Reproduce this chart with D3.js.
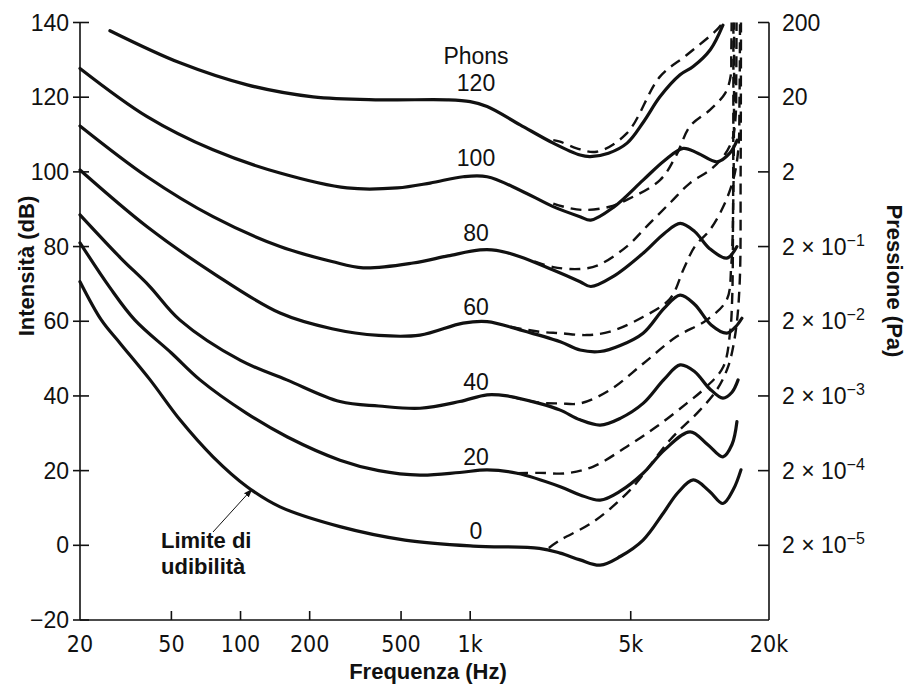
<!DOCTYPE html>
<html>
<head>
<meta charset="utf-8">
<script src="https://cdn.jsdelivr.net/npm/d3@7"></script>
<style>
  body { margin: 0; background: #fff; }
  svg text { font-family: "Liberation Sans", Arial, sans-serif; fill: #111; }
  .tick-x { font-family: "Liberation Sans Narrow", "DejaVu Sans Condensed", sans-serif; font-size: 23px; }
  .tick-y { font-size: 23px; }
  .title { font-weight: bold; font-size: 22px; }
  .note { font-weight: bold; font-size: 22px; }
  .phon { font-size: 23px; }
</style>
</head>
<body>
<div id="chart"></div>
<script>
// equal loudness contours, [frequency Hz, level dB]
var phons = [0, 20, 40, 60, 80, 100, 120];

var solid0 = [[20,70.6],[24.8,60.3],[30,54],[40.4,44.3],[54.5,33.6],[75.9,23.7],[106.7,15.7],[148.6,10.3],[271,5],[520,1.4],[1030,-0.2],[2000,-0.8],[2467,-2.1],[3010,-3.9],[3680,-5.3],[4500,-3],[5660,1.4],[7000,9],[8000,14],[9360,17.5],[11000,14.5],[12600,11.2],[14000,15],[15100,20.2]];
var solid20 = [[20,81],[27,69],[34.7,60.3],[50,51.5],[66.6,44.3],[106,35.4],[160,29],[271,22.8],[400,20],[605,18.8],[900,19.5],[1185,20.2],[1600,19.3],[2467,15.7],[3010,13.5],[3680,12.1],[4500,14.5],[5660,19.3],[7000,25.5],[9070,30.4],[10800,27],[12600,23.7],[13800,27],[14500,33.1]];
var solid40 = [[20,88.5],[30,77],[40,69.5],[54.5,60.3],[100,49.5],[159,44.3],[271,38.5],[400,37.3],[605,36.7],[900,38.5],[1185,40.3],[1450,40],[2000,38],[2467,36.2],[3010,33.6],[3680,32.2],[4500,34],[5660,38],[7000,44.5],[8210,48.3],[9500,46.5],[11000,42],[12600,39.4],[13800,41],[14670,44.3]];
var solid60 = [[20,100.5],[39.2,85.3],[75.9,72.9],[148.6,62.2],[250,58],[400,56.2],[605,56.3],[931,59.5],[1185,59.9],[1649,57.7],[2467,54.5],[3010,52.3],[3680,51.9],[4500,53.5],[5660,56.8],[7000,63.5],[8200,67],[9500,64.5],[11200,59],[13100,56.8],[14300,58.5],[15240,60.8]];
var solid80 = [[20,112.3],[39.2,98.7],[75.9,88],[148.6,80],[250,76],[342,74.3],[564,75.6],[800,77.5],[1104,79.1],[1300,79],[1649,77.3],[2297,73.7],[3010,70.6],[3350,69.3],[4200,72],[5660,78.2],[7000,83.5],[8210,86.2],[9500,84],[11000,79.5],[13100,76.9],[14500,80]];
var solid100 = [[20,127.7],[39.2,114.8],[75.9,105.9],[148.6,99.7],[291,95.7],[481,95.7],[669,97],[931,98.7],[1185,98.7],[1649,95.1],[2297,90.7],[3010,88],[3350,87.1],[4200,90.5],[5660,97.8],[7000,103],[8460,106.3],[9800,105],[11890,102.7],[13500,105],[14530,108.5]];
var solid120 = [[27,137.8],[54.5,129.2],[107,123.3],[207,120.1],[405,119.3],[793,119.3],[1000,118.8],[1185,117.5],[1650,112.6],[2300,107.7],[3010,104.5],[3330,104.1],[4000,105],[4820,107.7],[5700,113.5],[6700,120.1],[8200,126],[9350,128.2],[11100,132.7],[12600,139.3]];

var dashed0 = [[2200,-0.7],[2467,1.4],[3436,6.3],[4965,14.8],[7410,28.2],[10010,36.2],[11840,41.6],[13300,48],[14300,57],[14900,70],[15050,100],[15100,140]];
var dashed20 = [[1600,19.3],[2000,19.4],[2631,19.3],[3436,21.1],[4803,26.4],[6486,31.8],[8764,38],[10700,42.5],[12650,47.8],[13530,56.8],[13820,65.7],[13950,90],[14000,140]];
var dashed40 = [[1500,39.8],[2000,38.2],[2467,38],[3007,38],[4062,41.6],[5675,48.7],[7925,55.9],[10700,60.3],[13080,65.7],[13700,75],[14000,95],[14100,140]];
var dashed60 = [[1500,58.5],[2000,57.2],[2467,56.8],[3215,56.3],[4062,57.2],[5675,61.2],[7410,66],[8500,74],[9500,80],[11070,84.5],[12650,90.7],[13960,97.8],[14700,105.9],[14880,119.3],[14950,140]];
var dashed80 = [[1900,76],[2300,74.5],[3000,74],[3600,75],[4800,80],[6000,86],[7500,92],[9060,97],[11070,100.5],[12650,104.1],[13840,108.6],[14310,114.8],[14400,125],[14450,140]];
var dashed100 = [[2300,91.5],[2700,90.3],[3150,89.8],[4000,90.6],[4803,92.5],[6705,97.8],[7900,104.5],[9060,112.2],[11070,116.6],[12900,121.1],[13600,125.5],[13700,132],[13750,140]];
var dashed120 = [[2300,108.5],[2460,108.1],[2908,106.3],[3554,105.4],[4803,110.3],[6705,125.5],[8765,131.3],[11840,138],[12600,140]];

var solids = [solid0, solid20, solid40, solid60, solid80, solid100, solid120];
var dashes = [dashed0, dashed20, dashed40, dashed60, dashed80, dashed100, dashed120];

var freqTicks = [20, 50, 100, 200, 500, 1000, 5000, 20000];
var freqLabels = ["20", "50", "100", "200", "500", "1k", "5k", "20k"];
var dbTicks = [-20, 0, 20, 40, 60, 80, 100, 120, 140];
var paTicks = [0, 20, 40, 60, 80, 100, 120, 140];
var paMant = ["2", "2", "2", "2", "2", "2", "20", "200"];
var paExp = ["\u22125", "\u22124", "\u22123", "\u22122", "\u22121", null, null, null];
var labelFreq = 1060; // where the phon numbers sit

var w = 912, h = 684;
var svg = d3.select("#chart").append("svg")
    .attr("width", w)
    .attr("height", h);

var x = d3.scaleLog().domain([20, 20000]).range([80, 769]);
var y = d3.scaleLinear().domain([-20, 140]).range([620, 22.5]);

var line = d3.line()
    .x(function(d) { return x(d[0]); })
    .y(function(d) { return y(d[1]); })
    .curve(d3.curveCatmullRom.alpha(0.5));

// frame: left, bottom, right
var axes = svg.append("g").attr("stroke", "#111").attr("stroke-width", 1.6);
axes.append("line").attr("x1", x(20)).attr("x2", x(20)).attr("y1", y(140)).attr("y2", y(-20));
axes.append("line").attr("x1", x(20)).attr("x2", x(20000)).attr("y1", y(-20)).attr("y2", y(-20));
axes.append("line").attr("x1", x(20000)).attr("x2", x(20000)).attr("y1", y(140)).attr("y2", y(-20));

axes.selectAll(".ly").data(dbTicks).enter().append("line")
    .attr("x1", x(20) - 7).attr("x2", x(20) + 9)
    .attr("y1", function(d) { return y(d); })
    .attr("y2", function(d) { return y(d); });
axes.selectAll(".ry").data(paTicks).enter().append("line")
    .attr("x1", x(20000) - 11).attr("x2", x(20000))
    .attr("y1", function(d) { return y(d); })
    .attr("y2", function(d) { return y(d); });
axes.selectAll(".bx").data(freqTicks.slice(1, -1)).enter().append("line")
    .attr("x1", function(d) { return x(d); })
    .attr("x2", function(d) { return x(d); })
    .attr("y1", y(-20)).attr("y2", y(-20) - 9);

svg.selectAll(".tick-y.l").data(dbTicks).enter().append("text")
    .attr("class", "tick-y l")
    .attr("x", x(20) - 11)
    .attr("y", function(d) { return y(d); })
    .attr("dy", "0.35em")
    .attr("text-anchor", "end")
    .text(function(d) { return d < 0 ? "\u2212" + Math.abs(d) : d; });

svg.selectAll(".tick-x").data(freqTicks).enter().append("text")
    .attr("class", "tick-x")
    .attr("x", function(d) { return x(d); })
    .attr("y", 652)
    .attr("text-anchor", "middle")
    .text(function(d, i) { return freqLabels[i]; });

var rl = svg.selectAll(".tick-y.r").data(paTicks).enter().append("text")
    .attr("class", "tick-y r")
    .attr("x", x(20000) + 13)
    .attr("y", function(d) { return y(d); })
    .attr("dy", "0.35em");
rl.append("tspan").text(function(d, i) { return paExp[i] ? paMant[i] + " \u00d7 10" : paMant[i]; });
rl.filter(function(d, i) { return paExp[i]; }).append("tspan")
    .attr("dy", -9)
    .attr("font-size", 16)
    .text(function(d) { return paExp[paTicks.indexOf(d)]; });

// curves
svg.append("g").selectAll("path").data(dashes).enter().append("path")
    .attr("d", line)
    .attr("fill", "none")
    .attr("stroke", "#111")
    .attr("stroke-width", 2.4)
    .attr("stroke-dasharray", "11,7");

svg.append("g").selectAll("path").data(solids).enter().append("path")
    .attr("d", line)
    .attr("fill", "none")
    .attr("stroke", "#111")
    .attr("stroke-width", 3.2)
    .attr("stroke-linecap", "round");

// phon labels
svg.selectAll(".phon").data(phons).enter().append("text")
    .attr("class", "phon")
    .attr("x", x(labelFreq))
    .attr("y", function(d) { return y(d) - 6; })
    .attr("text-anchor", "middle")
    .text(function(d) { return d; });
svg.append("text").attr("class", "phon")
    .attr("x", x(labelFreq)).attr("y", y(120) - 33)
    .attr("text-anchor", "middle").text("Phons");

// threshold note
svg.append("defs").append("marker")
    .attr("id", "arr").attr("viewBox", "0 0 10 10")
    .attr("refX", 9).attr("refY", 5)
    .attr("markerWidth", 9).attr("markerHeight", 9)
    .attr("orient", "auto")
  .append("path").attr("d", "M0,1.5L10,5L0,8.5z").attr("fill", "#111");
svg.append("line")
    .attr("x1", 213).attr("y1", 532)
    .attr("x2", x(112)).attr("y2", y(15))
    .attr("stroke", "#111").attr("stroke-width", 1)
    .attr("marker-end", "url(#arr)");
svg.append("text").attr("class", "note").attr("x", 161).attr("y", 548).text("Limite di");
svg.append("text").attr("class", "note").attr("x", 161).attr("y", 574).text("udibilità");

// axis titles
svg.append("text").attr("class", "title")
    .attr("font-size", 24)
    .attr("transform", "translate(34,266) rotate(-90)")
    .attr("text-anchor", "middle").text("Intensità (dB)");
svg.append("text").attr("class", "title")
    .attr("font-size", 21)
    .attr("transform", "translate(887,281) rotate(90)")
    .attr("text-anchor", "middle").text("Pressione (Pa)");
svg.append("text").attr("class", "title")
    .attr("x", 428).attr("y", 679)
    .attr("text-anchor", "middle").text("Frequenza (Hz)");
</script>
</body>
</html>
